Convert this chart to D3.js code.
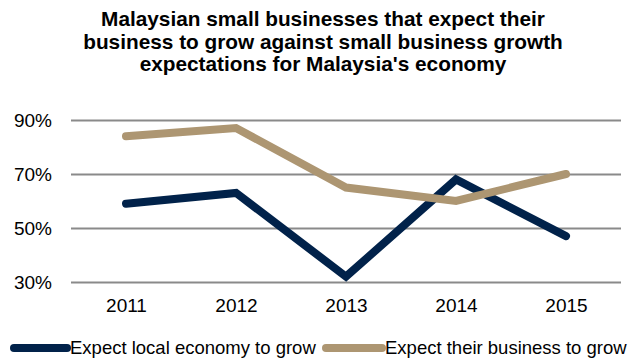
<!DOCTYPE html>
<html>
<head>
<meta charset="utf-8">
<script src="https://cdn.jsdelivr.net/npm/d3@7"></script>
<style>
  html, body { margin: 0; padding: 0; background: #fff; }
  svg { display: block; font-family: "Liberation Sans", Arial, sans-serif; }
</style>
</head>
<body>
<svg id="chart" width="633" height="358"></svg>
<script>
// Survey results, share of respondents (%)
const years = ["2011", "2012", "2013", "2014", "2015"];
const localEconomy = [59, 63, 32, 68, 47];
const ownBusiness = [84, 87, 65, 60, 70];
const yTicks = [30, 50, 70, 90];
const seriesNames = ["Expect local economy to grow", "Expect their business to grow"];
const seriesColors = ["#01224a", "#ad9672"];
const titleLines = [
  "Malaysian small businesses that expect their",
  "business to grow against small business growth",
  "expectations for Malaysia's economy"
];

const svg = d3.select("#chart");

const x = d3.scalePoint().domain(years).range([71, 621]).padding(0.5);
const y = d3.scaleLinear().domain([30, 90]).range([282, 120]);

// Title
svg.append("text")
  .attr("text-anchor", "middle")
  .attr("font-weight", "bold")
  .attr("font-size", 20.8)
  .attr("fill", "#000")
  .selectAll("tspan")
  .data(titleLines)
  .join("tspan")
  .attr("x", 323)
  .attr("y", (d, i) => 26 + i * 22.5)
  .text(d => d);

// Horizontal gridlines
svg.append("g")
  .attr("transform", "translate(621,0)")
  .call(d3.axisLeft(y).tickValues(yTicks).tickSize(550).tickFormat(""))
  .call(g => g.select(".domain").remove())
  .call(g => g.selectAll("line").attr("stroke", "#8a8a8a").attr("stroke-width", 2));

// Percentage labels
svg.append("g")
  .attr("transform", "translate(71,0)")
  .call(d3.axisLeft(y).tickValues(yTicks).tickSize(0).tickPadding(19).tickFormat(d => d + "%"))
  .call(g => g.select(".domain").remove())
  .call(g => g.selectAll("text")
    .attr("font-size", 19)
    .attr("fill", "#000")
    .attr("font-family", "Liberation Sans, Arial, sans-serif"));

// Year labels
svg.append("g")
  .attr("transform", "translate(0,282)")
  .call(d3.axisBottom(x).tickSize(0).tickPadding(17))
  .call(g => g.select(".domain").remove())
  .call(g => g.selectAll("text")
    .attr("font-size", 19)
    .attr("fill", "#000")
    .attr("font-family", "Liberation Sans, Arial, sans-serif"));

// Series lines
const line = d3.line()
  .x((d, i) => x(years[i]))
  .y(d => y(d));

[localEconomy, ownBusiness].forEach((vals, k) => {
  svg.append("path")
    .datum(vals)
    .attr("d", line)
    .attr("fill", "none")
    .attr("stroke", seriesColors[k])
    .attr("stroke-width", 8)
    .attr("stroke-linejoin", "miter")
    .attr("stroke-linecap", "round");
});

// Legend
const legendItems = [
  { x0: 14, x1: 67, tx: 70 },
  { x0: 326, x1: 382, tx: 385 }
];
const legend = svg.append("g");
legendItems.forEach((it, k) => {
  legend.append("line")
    .attr("x1", it.x0).attr("x2", it.x1)
    .attr("y1", 348).attr("y2", 348)
    .attr("stroke", seriesColors[k])
    .attr("stroke-width", 8)
    .attr("stroke-linecap", "round");
  legend.append("text")
    .attr("x", it.tx)
    .attr("y", 354)
    .attr("font-size", 18.5)
    .attr("fill", "#000")
    .text(seriesNames[k]);
});
</script>
</body>
</html>
